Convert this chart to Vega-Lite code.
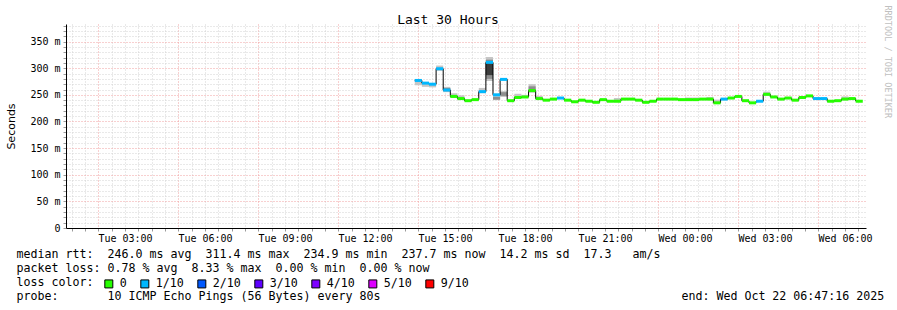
{
"$schema":"https://vega.github.io/schema/vega-lite/v6.json",
"width":800,"height":204,
"autosize":{"type":"none"},
"padding":{"left":66,"top":24,"right":31,"bottom":82},
"background":"#ffffff",
"title":{"text":"Last 30 Hours","font":"DejaVu Sans Mono","fontSize":13,"fontWeight":"normal","color":"#000000","anchor":"middle","frame":"group","dx":-18,"dy":14,"offset":-18,"baseline":"alphabetic"},
"data":{"values":[
{"t":"2025-10-21T13:52:00","t2":"2025-10-21T14:08:00","med":277,"loss":"1/10","lo":268,"hi":279},
{"t":"2025-10-21T14:08:00","t2":"2025-10-21T14:24:00","med":272,"loss":"1/10","lo":265,"hi":274},
{"t":"2025-10-21T14:24:00","t2":"2025-10-21T14:40:00","med":270,"loss":"1/10","lo":264,"hi":272},
{"t":"2025-10-21T14:40:00","t2":"2025-10-21T14:56:00","med":299,"loss":"1/10","lo":295,"hi":305},
{"t":"2025-10-21T14:56:00","t2":"2025-10-21T15:12:00","med":259,"loss":"1/10","lo":255,"hi":265,"mlo":257,"mhi":263},
{"t":"2025-10-21T15:12:00","t2":"2025-10-21T15:28:00","med":247,"loss":"0","lo":244,"hi":253},
{"t":"2025-10-21T15:28:00","t2":"2025-10-21T15:44:00","med":243,"loss":"0","lo":241,"hi":249},
{"t":"2025-10-21T15:44:00","t2":"2025-10-21T16:00:00","med":239,"loss":"0"},
{"t":"2025-10-21T16:00:00","t2":"2025-10-21T16:16:00","med":241,"loss":"0"},
{"t":"2025-10-21T16:16:00","t2":"2025-10-21T16:32:00","med":256,"loss":"1/10","lo":253,"hi":263},
{"t":"2025-10-21T16:32:00","t2":"2025-10-21T16:48:00","med":311,"loss":"1/10","lo":276,"hi":321,"mlo":280,"mhi":316,"dlo":287,"dhi":311},
{"t":"2025-10-21T16:48:00","t2":"2025-10-21T17:04:00","med":250,"loss":"1/10","lo":240,"hi":252,"mlo":241,"mhi":246},
{"t":"2025-10-21T17:04:00","t2":"2025-10-21T17:20:00","med":279,"loss":"1/10","lo":246,"hi":257,"mlo":248,"mhi":255},
{"t":"2025-10-21T17:20:00","t2":"2025-10-21T17:36:00","med":239,"loss":"0"},
{"t":"2025-10-21T17:36:00","t2":"2025-10-21T17:52:00","med":245,"loss":"0","lo":243,"hi":252},
{"t":"2025-10-21T17:52:00","t2":"2025-10-21T18:08:00","med":246,"loss":"0","lo":244,"hi":250},
{"t":"2025-10-21T18:08:00","t2":"2025-10-21T18:24:00","med":258,"loss":"0","lo":254,"hi":270,"mlo":257,"mhi":266},
{"t":"2025-10-21T18:24:00","t2":"2025-10-21T18:40:00","med":243,"loss":"0","lo":241,"hi":248},
{"t":"2025-10-21T18:40:00","t2":"2025-10-21T18:56:00","med":240,"loss":"0"},
{"t":"2025-10-21T18:56:00","t2":"2025-10-21T19:12:00","med":242,"loss":"0"},
{"t":"2025-10-21T19:12:00","t2":"2025-10-21T19:28:00","med":244,"loss":"1/10"},
{"t":"2025-10-21T19:28:00","t2":"2025-10-21T19:44:00","med":240,"loss":"0"},
{"t":"2025-10-21T19:44:00","t2":"2025-10-21T20:00:00","med":237,"loss":"0"},
{"t":"2025-10-21T20:00:00","t2":"2025-10-21T20:16:00","med":240,"loss":"0"},
{"t":"2025-10-21T20:16:00","t2":"2025-10-21T20:32:00","med":238,"loss":"0"},
{"t":"2025-10-21T20:32:00","t2":"2025-10-21T20:48:00","med":236,"loss":"0"},
{"t":"2025-10-21T20:48:00","t2":"2025-10-21T21:04:00","med":241,"loss":"0"},
{"t":"2025-10-21T21:04:00","t2":"2025-10-21T21:20:00","med":238,"loss":"0"},
{"t":"2025-10-21T21:20:00","t2":"2025-10-21T21:36:00","med":238,"loss":"0","lo":236,"hi":244},
{"t":"2025-10-21T21:36:00","t2":"2025-10-21T21:52:00","med":242,"loss":"0"},
{"t":"2025-10-21T21:52:00","t2":"2025-10-21T22:08:00","med":242,"loss":"0"},
{"t":"2025-10-21T22:08:00","t2":"2025-10-21T22:24:00","med":240,"loss":"0"},
{"t":"2025-10-21T22:24:00","t2":"2025-10-21T22:40:00","med":236,"loss":"0"},
{"t":"2025-10-21T22:40:00","t2":"2025-10-21T22:56:00","med":238,"loss":"0"},
{"t":"2025-10-21T22:56:00","t2":"2025-10-21T23:12:00","med":242,"loss":"0"},
{"t":"2025-10-21T23:12:00","t2":"2025-10-21T23:28:00","med":242,"loss":"0"},
{"t":"2025-10-21T23:28:00","t2":"2025-10-21T23:44:00","med":242,"loss":"0"},
{"t":"2025-10-21T23:44:00","t2":"2025-10-22T00:00:00","med":241,"loss":"0"},
{"t":"2025-10-22T00:00:00","t2":"2025-10-22T00:16:00","med":241,"loss":"0","lo":239,"hi":245},
{"t":"2025-10-22T00:16:00","t2":"2025-10-22T00:32:00","med":241,"loss":"0","lo":239,"hi":245},
{"t":"2025-10-22T00:32:00","t2":"2025-10-22T00:48:00","med":242,"loss":"0"},
{"t":"2025-10-22T00:48:00","t2":"2025-10-22T01:04:00","med":242,"loss":"0","lo":240,"hi":246},
{"t":"2025-10-22T01:04:00","t2":"2025-10-22T01:20:00","med":235,"loss":"0","lo":234,"hi":241},
{"t":"2025-10-22T01:20:00","t2":"2025-10-22T01:36:00","med":242,"loss":"1/10"},
{"t":"2025-10-22T01:36:00","t2":"2025-10-22T01:52:00","med":244,"loss":"0"},
{"t":"2025-10-22T01:52:00","t2":"2025-10-22T02:08:00","med":247,"loss":"0"},
{"t":"2025-10-22T02:08:00","t2":"2025-10-22T02:24:00","med":239,"loss":"0"},
{"t":"2025-10-22T02:24:00","t2":"2025-10-22T02:40:00","med":235,"loss":"0"},
{"t":"2025-10-22T02:40:00","t2":"2025-10-22T02:56:00","med":238,"loss":"1/10"},
{"t":"2025-10-22T02:56:00","t2":"2025-10-22T03:12:00","med":251,"loss":"0","lo":248,"hi":256},
{"t":"2025-10-22T03:12:00","t2":"2025-10-22T03:28:00","med":246,"loss":"0"},
{"t":"2025-10-22T03:28:00","t2":"2025-10-22T03:44:00","med":242,"loss":"0"},
{"t":"2025-10-22T03:44:00","t2":"2025-10-22T04:00:00","med":244,"loss":"0"},
{"t":"2025-10-22T04:00:00","t2":"2025-10-22T04:16:00","med":240,"loss":"0"},
{"t":"2025-10-22T04:16:00","t2":"2025-10-22T04:32:00","med":245,"loss":"0"},
{"t":"2025-10-22T04:32:00","t2":"2025-10-22T04:48:00","med":248,"loss":"0"},
{"t":"2025-10-22T04:48:00","t2":"2025-10-22T05:04:00","med":243,"loss":"1/10"},
{"t":"2025-10-22T05:04:00","t2":"2025-10-22T05:20:00","med":243,"loss":"1/10"},
{"t":"2025-10-22T05:20:00","t2":"2025-10-22T05:36:00","med":238,"loss":"0"},
{"t":"2025-10-22T05:36:00","t2":"2025-10-22T05:52:00","med":239,"loss":"0"},
{"t":"2025-10-22T05:52:00","t2":"2025-10-22T06:08:00","med":242,"loss":"0","lo":240,"hi":247},
{"t":"2025-10-22T06:08:00","t2":"2025-10-22T06:24:00","med":243,"loss":"0"},
{"t":"2025-10-22T06:24:00","t2":"2025-10-22T06:40:00","med":238,"loss":"0"}
]},
"encoding":{
"x":{"field":"t","type":"temporal",
"scale":{"domain":[{"year":2025,"month":10,"date":21,"hours":0,"minutes":47,"seconds":16},{"year":2025,"month":10,"date":22,"hours":6,"minutes":47,"seconds":16}],"nice":false},
"axis":{
"tickCount":60,
"labelExpr":"hours(datum.value) % 3 == 0 && minutes(datum.value) == 0 ? timeFormat(datum.value, '%a %H:%M') : ''",
"labelOverlap":false,"labelFlush":false,"labelBound":false,
"labelFont":"DejaVu Sans Mono","labelFontSize":10,"labelColor":"#000000","labelPadding":2,
"grid":true,"gridColor":{"condition":{"test":"hours(datum.value) % 3 == 2 && minutes(datum.value) == 0","value":"#f0a0a0"},"value":"#d2d2d2"},"gridDash":[1,2],"gridWidth":1,
"ticks":true,"tickSize":3,"tickColor":"#9a9a9a",
"domain":true,"domainColor":"#000000","domainWidth":1,
"title":["median rtt:\u00a0\u00a0246.0 ms avg\u00a0\u00a0311.4 ms max\u00a0\u00a0234.9 ms min\u00a0\u00a0237.7 ms now\u00a0\u00a014.2 ms sd\u00a0\u00a017.3\u00a0\u00a0\u00a0am/s",
"packet loss: 0.78 % avg\u00a0\u00a08.33 % max\u00a0\u00a00.00 % min\u00a0\u00a00.00 % now",
"loss color:",
"probe:\u00a0\u00a0\u00a0\u00a0\u00a0\u00a0\u00a010 ICMP Echo Pings (56 Bytes) every 80s\u00a0\u00a0\u00a0\u00a0\u00a0\u00a0\u00a0\u00a0\u00a0\u00a0\u00a0\u00a0\u00a0\u00a0\u00a0\u00a0\u00a0\u00a0\u00a0\u00a0\u00a0\u00a0\u00a0\u00a0\u00a0\u00a0\u00a0\u00a0\u00a0\u00a0\u00a0\u00a0\u00a0\u00a0\u00a0\u00a0\u00a0\u00a0\u00a0\u00a0\u00a0\u00a0\u00a0end: Wed Oct 22 06:47:16 2025"],
"titleFont":"DejaVu Sans Mono","titleFontSize":11.63,"titleFontWeight":"normal","titleColor":"#000000",
"titleAnchor":"start","titleAlign":"left","titleBaseline":"top","titleX":-50,"titleY":20,"titleLineHeight":14.3,"titleLimit":1000
}}
},
"layer":[
{"mark":{"type":"rect","color":"#c6c6c6"},
 "encoding":{
  "x2":{"field":"t2"},
  "y":{"field":"lo","type":"quantitative","scale":{"domain":[0,383],"nice":false,"zero":true},
   "axis":{"orient":"left","values":[0,10,20,30,40,50,60,70,80,90,100,110,120,130,140,150,160,170,180,190,200,210,220,230,240,250,260,270,280,290,300,310,320,330,340,350,360,370,380],
   "labelExpr":"datum.value % 50 == 0 ? (datum.value == 0 ? '0' : datum.value + ' m') : ''",
   "labelFont":"DejaVu Sans Mono","labelFontSize":10,"labelColor":"#000000","labelPadding":3,"labelOverlap":false,"labelBound":false,"labelFlush":false,
   "grid":true,"gridColor":{"condition":{"test":"datum.value % 50 == 0","value":"#f0a0a0"},"value":"#d2d2d2"},"gridDash":[1,2],
   "tickSize":3,"tickColor":"#9a9a9a","domainColor":"#000000",
   "title":"Seconds","titleFont":"DejaVu Sans","titleFontSize":11,"titleFontWeight":"normal","titleColor":"#000000",
   "titleX":-55,"titleY":102,"titleAngle":270,"titleAlign":"center","titleBaseline":"middle"}},
  "y2":{"field":"hi"}
 }},
{"mark":{"type":"rect","color":"#8e8e8e"},
 "encoding":{
  "x2":{"field":"t2"},
  "y":{"field":"mlo","type":"quantitative","scale":{"domain":[0,383],"nice":false,"zero":true},"axis":null},
  "y2":{"field":"mhi"}
 }},
{"mark":{"type":"rect","color":"#3c3c3c"},
 "encoding":{
  "x2":{"field":"t2"},
  "y":{"field":"dlo","type":"quantitative","scale":{"domain":[0,383],"nice":false,"zero":true},"axis":null},
  "y2":{"field":"dhi"}
 }},
{"mark":{"type":"line","interpolate":"step-after","color":"#000000","strokeWidth":1},
 "encoding":{
  "y":{"field":"med","type":"quantitative","scale":{"domain":[0,383],"nice":false,"zero":true},
   "axis":{"orient":"right","labels":false,"ticks":false,"domain":false,"grid":false,
   "title":"RRDTOOL / TOBI OETIKER","titleFont":"DejaVu Sans Mono","titleFontSize":8.5,"titleFontWeight":"normal","titleColor":"#c0c0c0",
   "titleAngle":90,"titleX":21,"titleY":-19,"titleAlign":"left","titleBaseline":"middle"}}
 }},
{"mark":{"type":"rule","strokeWidth":3,"strokeCap":"butt"},
 "encoding":{
  "x2":{"field":"t2"},
  "y":{"field":"med","type":"quantitative","scale":{"domain":[0,383],"nice":false,"zero":true},"axis":null},
  "stroke":{"field":"loss","type":"nominal","legend":null,
   "scale":{"domain":["0","1/10"],"range":["#26ff00","#00b8ff"]}}
 }},
{"mark":{"type":"square","opacity":0,"filled":true,"stroke":"#000000","strokeWidth":1},
 "encoding":{
  "y":{"field":"med","type":"quantitative","scale":{"domain":[0,383],"nice":false,"zero":true},"axis":null},
  "color":{"field":"loss","type":"nominal",
   "scale":{"domain":["0","1/10","2/10","3/10","4/10","5/10","9/10"],"range":["#26ff00","#00b8ff","#0059ff","#5e00ff","#7e00ff","#dd00ff","#ff0000"]},
   "legend":{"orient":"none","legendX":37,"legendY":254,"direction":"horizontal","padding":0,
    "title":null,
    "labelFont":"DejaVu Sans Mono","labelFontSize":11.63,"labelColor":"#000000","labelOffset":5,"columnPadding":11,
    "symbolType":"square","symbolSize":64,"symbolStrokeWidth":1,"symbolStrokeColor":"#000000","symbolOpacity":1}}
 }},
{"data":{"values":[{}]},
 "mark":{"type":"point","shape":"triangle-right","filled":true,"color":"#7f1d1d","size":30,"opacity":1,"xOffset":3},
 "encoding":{
  "x":{"datum":{"year":2025,"month":10,"date":22,"hours":6,"minutes":47,"seconds":16},"type":"temporal"},
  "y":{"datum":0,"type":"quantitative","scale":{"domain":[0,383],"nice":false,"zero":true},"axis":null}
 }},
{"data":{"values":[{}]},
 "mark":{"type":"point","shape":"triangle-up","filled":true,"color":"#7f1d1d","size":30,"opacity":1,"yOffset":-2},
 "encoding":{
  "x":{"datum":{"year":2025,"month":10,"date":21,"hours":0,"minutes":47,"seconds":16},"type":"temporal"},
  "y":{"datum":383,"type":"quantitative","scale":{"domain":[0,383],"nice":false,"zero":true},"axis":null}
 }}
],
"resolve":{"axis":{"y":"independent"}},
"config":{"view":{"stroke":null}}
}
